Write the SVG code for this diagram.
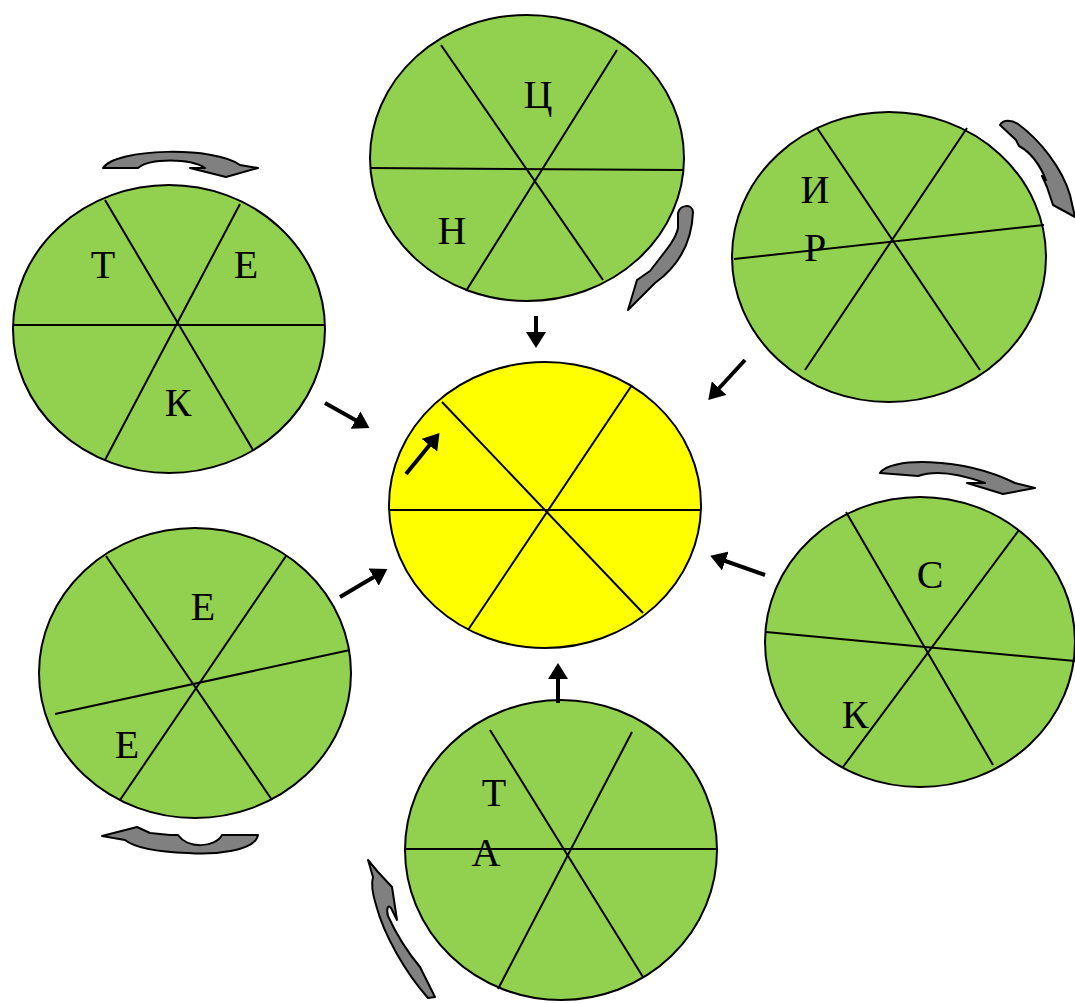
<svg xmlns="http://www.w3.org/2000/svg" width="1075" height="1003" viewBox="0 0 1075 1003">
<defs>
<style>
.g{fill:#92D050;stroke:#000;stroke-width:2}
.y{fill:#FFFF00;stroke:#000;stroke-width:2}
.l{stroke:#000;stroke-width:2;fill:none}
.t{font-family:"Liberation Serif","Times New Roman",serif;font-size:40px;fill:#000;text-anchor:middle}
.c{fill:#808080;stroke:#000;stroke-width:2;stroke-linejoin:round}
.a{stroke:#000;stroke-width:4;fill:none;marker-end:url(#ah)}
</style>
<marker id="ah" markerWidth="5" markerHeight="5" refX="3" refY="2.5" orient="auto" markerUnits="strokeWidth">
<path d="M0,0 L4,2.5 L0,5 Z" fill="#000"/>
</marker>
</defs>
<g id="node-top">
<ellipse class="g" cx="527" cy="158" rx="157" ry="143"/>
<line class="l" x1="370" y1="168" x2="684" y2="170"/>
<line class="l" x1="441" y1="45" x2="603" y2="280"/>
<line class="l" x1="617" y1="50" x2="466" y2="291"/>
<text class="t" x="538" y="108">Ц</text>
<text class="t" x="452" y="244">Н</text>
</g>
<g id="node-topleft">
<ellipse class="g" cx="169" cy="329" rx="156" ry="144"/>
<line class="l" x1="13" y1="325" x2="325" y2="325"/>
<line class="l" x1="105" y1="200" x2="253" y2="450"/>
<line class="l" x1="240" y1="204" x2="105" y2="460"/>
<text class="t" x="103" y="278">Т</text>
<text class="t" x="246" y="278">Е</text>
<text class="t" x="178" y="416">К</text>
</g>
<g id="node-topright">
<ellipse class="g" cx="889" cy="257" rx="157" ry="145"/>
<line class="l" x1="734" y1="259" x2="1044" y2="225"/>
<line class="l" x1="817" y1="128" x2="980" y2="370"/>
<line class="l" x1="967" y1="128" x2="805" y2="370"/>
<text class="t" x="815" y="203">И</text>
<text class="t" x="815" y="261">Р</text>
</g>
<g id="node-center">
<ellipse class="y" cx="545" cy="505" rx="156" ry="143"/>
<line class="l" x1="389" y1="510" x2="701" y2="510"/>
<line class="l" x1="442" y1="402" x2="643" y2="613"/>
<line class="l" x1="632" y1="385" x2="468" y2="630"/>
</g>
<g id="node-right">
<ellipse class="g" cx="920" cy="642" rx="155" ry="145"/>
<line class="l" x1="766" y1="632" x2="1075" y2="661"/>
<line class="l" x1="846" y1="512" x2="993" y2="765"/>
<line class="l" x1="1019" y1="530" x2="843" y2="767"/>
<text class="t" x="930" y="588">С</text>
<text class="t" x="855" y="728">К</text>
</g>
<g id="node-bottomleft">
<ellipse class="g" cx="195" cy="673" rx="156" ry="145"/>
<line class="l" x1="55" y1="714" x2="350" y2="650"/>
<line class="l" x1="106" y1="556" x2="272" y2="800"/>
<line class="l" x1="286" y1="556" x2="120" y2="800"/>
<text class="t" x="203" y="620">Е</text>
<text class="t" x="127" y="758">Е</text>
</g>
<g id="node-bottom">
<ellipse class="g" cx="561" cy="850" rx="156" ry="150"/>
<line class="l" x1="405" y1="849" x2="717" y2="849"/>
<line class="l" x1="490" y1="730" x2="643" y2="977"/>
<line class="l" x1="632" y1="732" x2="498" y2="989"/>
<text class="t" x="494" y="806">Т</text>
<text class="t" x="486" y="866">А</text>
</g>
<g id="connectors">
<line class="a" x1="536" y1="316" x2="536" y2="344"/>
<line class="a" x1="745" y1="360" x2="711" y2="397"/>
<line class="a" x1="325" y1="403" x2="366" y2="426"/>
<line class="a" x1="406" y1="474" x2="437" y2="436"/>
<line class="a" x1="765" y1="575" x2="714" y2="557"/>
<line class="a" x1="340" y1="597" x2="384" y2="571"/>
<line class="a" x1="558" y1="703" x2="558" y2="667"/>
<path class="c" d="M103,168 C115,148 215,146 240,165 L258,168 L226,177 L190,168 L205,168 C190,158 150,158 138,168 Z"/>
<path class="c" d="M678,213 C680,205 692,203 693,212 C692,240 680,265 655,283 L628,310 L637,280 L650,271 L660,258 C668,248 676,238 678,228 Z"/>
<path class="c" d="M1000,125 C1003,119 1012,120 1018,124 C1040,140 1062,168 1070,195 L1075,217 L1053,205 L1047,187 L1042,176 L1046,180 C1040,165 1030,152 1019,146 L1016,140 Z"/>
<path class="c" d="M880,473 C888,458 960,456 1015,483 L1035,488 L1003,494 L967,483 L985,483 C960,474 935,470 918,476 Z"/>
<path class="c" d="M102,836 L137,827 L150,833 L170,835 L178,835 C188,849 215,848 222,835 L258,835 C255,851 215,855 188,853 C160,852 135,848 125,840 Z"/>
<path class="c" d="M368,860 L378,872 L392,887 L397,920 L391,908 C388,904 386,909 388,916 C398,938 410,955 420,967 L435,997 L428,998 C405,972 384,935 376,905 C372,892 371,884 373,877 Z"/>
</g>
</svg>
